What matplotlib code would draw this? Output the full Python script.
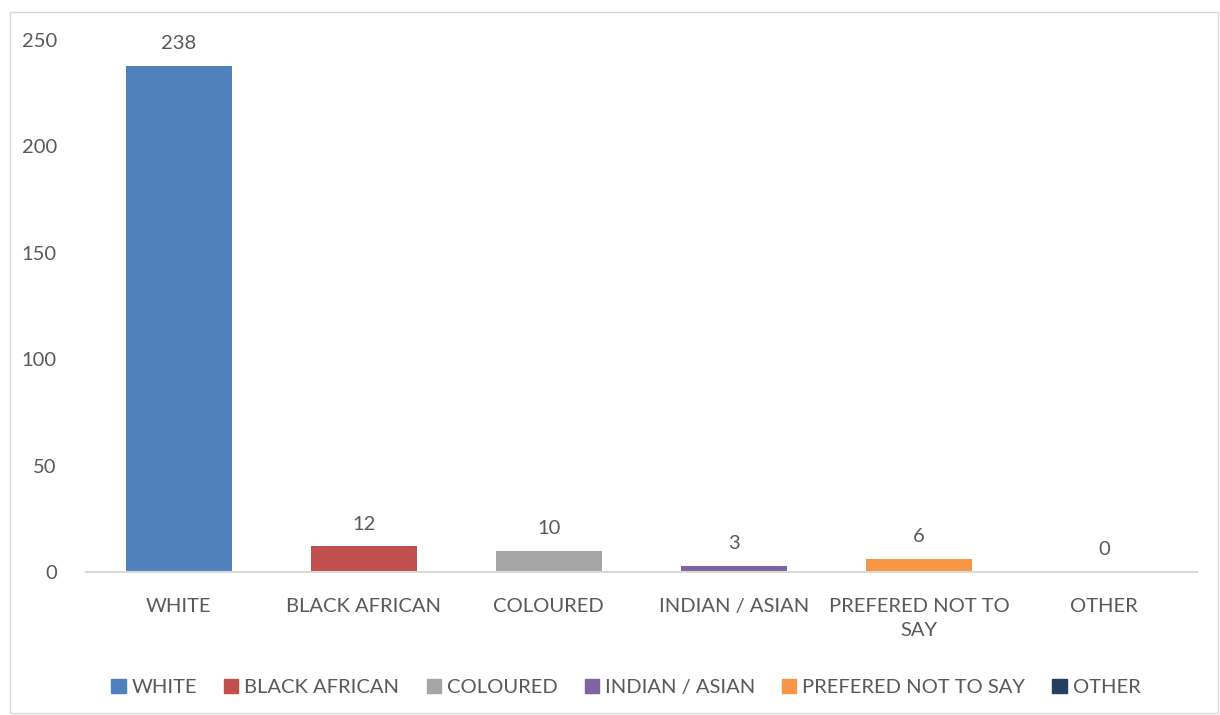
import matplotlib.pyplot as plt
from matplotlib.patches import Rectangle

categories = ["WHITE", "BLACK AFRICAN", "COLOURED", "INDIAN / ASIAN", "PREFERED NOT TO SAY", "OTHER"]
tick_labels = ["WHITE", "BLACK AFRICAN", "COLOURED", "INDIAN / ASIAN", "PREFERED NOT TO\nSAY", "OTHER"]
counts = [238, 12, 10, 3, 6, 0]
colors = ["#4f81bd", "#c0504d", "#a5a5a5", "#8064a2", "#f79646", "#243f60"]

plt.rcParams['font.family'] = ['Lato', 'DejaVu Sans']
txt = "#595959"
fs = 14.5

fig = plt.figure(figsize=(12.2, 7.15), dpi=100)
ax = fig.add_axes([0.0705, 0.2, 0.9105, 0.744])

x = range(len(categories))
bars = ax.bar(x, counts, width=0.573, color=colors, label=categories)
for xi, v in zip(x, counts):
    ax.text(xi, v + 6.5, str(v), ha='center', va='bottom', fontsize=fs, color=txt)

ax.set_xlim(-0.5, 5.5)
ax.set_ylim(0, 250)
ax.set_yticks([0, 50, 100, 150, 200, 250])
ax.set_xticks(list(x))
ax.set_xticklabels(tick_labels, fontsize=fs, color=txt, linespacing=1.5)
ax.tick_params(axis='y', labelsize=fs, labelcolor=txt, length=0, pad=21)
ax.tick_params(axis='x', length=0, pad=19)
for s in ['top', 'right', 'left']:
    ax.spines[s].set_visible(False)
ax.spines['bottom'].set_color('#d9d9d9')
ax.spines['bottom'].set_linewidth(1.5)

handles = [Rectangle((0, 0), 1, 1, color=c) for c in colors]
fig.legend(handles, categories, loc='center', bbox_to_anchor=(0.513, 0.039), ncol=6,
           frameon=False, fontsize=fs, labelcolor=txt, handlelength=0.7, handleheight=0.7,
           handletextpad=0.3, columnspacing=1.35)

fig.patches.append(Rectangle((10 / 1220, 2 / 715), 1208 / 1220, 701 / 715, transform=fig.transFigure,
                             fill=False, edgecolor='#d9d9d9', linewidth=1))

fig.savefig("out.png", dpi=100)
